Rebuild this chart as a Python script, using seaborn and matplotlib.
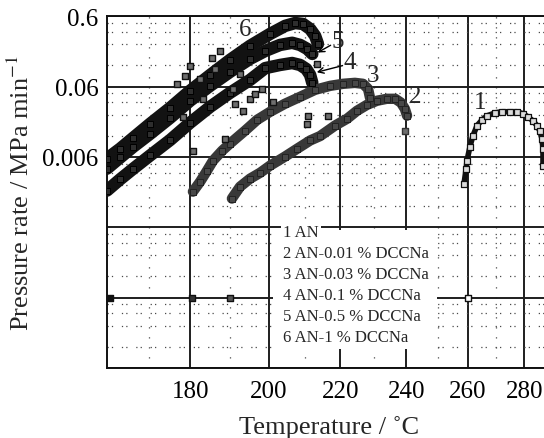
import numpy as np
import pandas as pd
import matplotlib
matplotlib.use("Agg")
import matplotlib.pyplot as plt
import seaborn as sns
from matplotlib.ticker import FixedLocator, FixedFormatter, NullFormatter
from matplotlib.patches import Rectangle

sns.set_style("white")
plt.rcParams['font.family'] = ['Liberation Serif', 'DejaVu Serif']
plt.rcParams['mathtext.fontset'] = 'stix'

# ---------------- data ----------------
# 1 AN
s1_T = [258.8, 259.5, 259.8, 260.8, 261.8, 263.2, 265.0, 266.7, 269.6, 272.0,
        274.9, 277.3, 279.5, 281.3, 283.2, 284.7, 285.8, 286.5, 286.9, 286.9]
s1_rate = [0.00251, 0.00409, 0.00532, 0.0084, 0.0119, 0.0167, 0.0203, 0.0231, 0.0255, 0.0264,
           0.0264, 0.0264, 0.0247, 0.0224, 0.0195, 0.0167, 0.0139, 0.0109, 0.0079, 0.0045]
# 2 AN-0.01 % DCCNa
s2_T = [190.4, 192.5, 195.1, 197.8, 200.4, 204.4, 207.8, 211.4, 214.2, 218.5,
        222.0, 224.9, 227.9, 230.9, 233.9, 236.5, 238.3, 239.5, 240.2]
s2_rate = [0.00154, 0.00227, 0.00295, 0.00359, 0.00452, 0.00606, 0.00787, 0.0103, 0.0119, 0.0168,
           0.0210, 0.0272, 0.0331, 0.0378, 0.0403, 0.0403, 0.0355, 0.0291, 0.0232]
s2_extra_T = [239.5]
s2_extra_rate = [0.0141]
# 3 AN-0.03 % DCCNa
s3_T = [180.6, 182.4, 184.1, 185.6, 187.9, 189.9, 193.8, 197.0, 200.4, 204.4,
        208.6, 212.8, 217.1, 220.8, 224.3, 226.7, 228.2, 228.8]
s3_rate = [0.00193, 0.00268, 0.00384, 0.00532, 0.00737, 0.0093, 0.0142, 0.0203, 0.0263, 0.0342,
           0.0430, 0.0541, 0.0616, 0.0658, 0.0679, 0.0658, 0.0559, 0.0416]
# 4 AN-0.1 % DCCNa
s4_T = [160.4, 163.4, 166.4, 170.3, 175.1, 179.9, 184.9, 189.9, 195.1, 199.1,
        203.1, 206.4, 208.6, 210.3, 211.4, 212.0]
s4_rate = [0.0020, 0.0029, 0.0041, 0.0063, 0.0105, 0.0184, 0.0311, 0.0490, 0.0748, 0.110,
           0.122, 0.130, 0.122, 0.107, 0.088, 0.068]
s4_extra_T = [187.4, 185.4, 179.9, 178.7, 176.8, 183.2, 190.7, 193.3, 195.1, 188.6,
              180.6, 178.2, 201.2, 210.8, 216.5, 210.6, 213.3, 182.4, 186.2, 192.5,
              196.4, 198.3, 191.2]
s4_extra_rate = [0.193, 0.154, 0.117, 0.085, 0.0658, 0.0403, 0.0559, 0.0272, 0.0403, 0.0109,
                 0.0074, 0.0224, 0.0365, 0.0232, 0.0232, 0.0178, 0.126, 0.0773, 0.107, 0.091,
                 0.0474, 0.0559, 0.0342]
# 5 AN-0.5 % DCCNa
s5_T = [160.4, 163.4, 166.4, 170.3, 175.1, 179.9, 184.9, 189.9, 195.1, 199.1,
        203.1, 206.4, 208.6, 210.6, 212.0]
s5_rate = [0.0041, 0.0059, 0.0084, 0.0128, 0.0217, 0.0378, 0.0618, 0.0972, 0.149, 0.193,
           0.235, 0.252, 0.235, 0.206, 0.175]
# 6 AN-1 % DCCNa
s6_T = [160.4, 163.4, 166.4, 170.3, 175.1, 179.9, 184.9, 189.9, 195.1, 200.4,
        204.5, 207.2, 209.4, 211.4, 212.8, 213.6]
s6_rate = [0.0057, 0.0079, 0.0113, 0.0178, 0.0301, 0.0525, 0.088, 0.144, 0.228, 0.337,
           0.439, 0.481, 0.467, 0.396, 0.316, 0.243]
# first points sitting on the 6e-5 line
base_T = [161.1, 180.4, 189.9, 260.2]
base_rate = [6e-5, 6e-5, 6e-5, 6e-5]

legend_labels = ["1 AN", "2 AN-0.01 % DCCNa", "3 AN-0.03 % DCCNa",
                 "4 AN-0.1 % DCCNa", "5 AN-0.5 % DCCNa", "6 AN-1 % DCCNa"]
curve_labels = ["1", "2", "3", "4", "5", "6"]
label_T = [264.3, 242.7, 229.7, 222.9, 219.3, 193.8]
label_rate = [0.0365, 0.044, 0.0882, 0.134, 0.268, 0.396]

xtick_values = [180, 200, 220, 240, 260, 280]
xtick_labels = ["180", "200", "220", "240", "260", "280"]
xminor_values = [170, 190, 210, 230, 250, 270]
ytick_values = [6e-6, 6e-5, 6e-4, 0.006, 0.06, 0.6]
ytick_labels = ["", "", "", "0.006", "0.06", "0.6"]

# ---------------- figure ----------------
fig = plt.figure(figsize=(5.44, 4.39), dpi=100)
ax = fig.add_axes([107 / 544, 70 / 439, 444.2 / 544, 351.7 / 439])


def fwd(t):
    t = np.asarray(t, dtype=float)
    return -1.0 / (t + 273.15)


def inv(u):
    u = np.asarray(u, dtype=float)
    with np.errstate(divide='ignore', invalid='ignore'):
        return -1.0 / u - 273.15


ax.set_xscale('function', functions=(fwd, inv))
ax.set_yscale('log')

series = [
    (s6_T, s6_rate, '#121212', 9.0, '#2e2e2e', '#000000'),
    (s5_T, s5_rate, '#121212', 9.0, '#2e2e2e', '#000000'),
    (s4_T, s4_rate, '#121212', 9.0, '#2e2e2e', '#000000'),
    (s3_T, s3_rate, '#383838', 7.5, '#484848', '#222222'),
    (s2_T, s2_rate, '#383838', 7.5, '#484848', '#222222'),
]
for T, r, col, lw, fc, ec in series:
    df = pd.DataFrame({'T': T, 'rate': r})
    sns.lineplot(data=df, x='T', y='rate', sort=False, estimator=None, color=col,
                 lw=lw, solid_capstyle='round', ax=ax, legend=False, zorder=2)
    sns.scatterplot(data=df, x='T', y='rate', marker='s', s=13, color=fc,
                    edgecolor=ec, linewidth=0.7, ax=ax, legend=False, zorder=3)

ex4 = pd.DataFrame({'T': s4_extra_T, 'rate': s4_extra_rate})
sns.scatterplot(data=ex4, x='T', y='rate', marker='s', s=17, color='#6e6e6e',
                edgecolor='#111111', linewidth=1.0, ax=ax, legend=False, zorder=3)
ex2 = pd.DataFrame({'T': s2_extra_T, 'rate': s2_extra_rate})
sns.scatterplot(data=ex2, x='T', y='rate', marker='s', s=17, color='#6e6e6e',
                edgecolor='#333333', linewidth=1.0, ax=ax, legend=False, zorder=3)

d1 = pd.DataFrame({'T': s1_T, 'rate': s1_rate})
sns.lineplot(data=d1, x='T', y='rate', sort=False, estimator=None, color='#111111',
             lw=4.0, solid_capstyle='round', ax=ax, legend=False, zorder=2)
sns.scatterplot(data=d1, x='T', y='rate', marker='s', s=14, color='#dcdcdc',
                edgecolor='#111111', linewidth=0.9, ax=ax, legend=False, zorder=3)

db = pd.DataFrame({'T': base_T, 'rate': base_rate})
sns.scatterplot(data=db, x='T', y='rate', marker='s', s=20,
                color=['#111111', '#333333', '#555555', 'white'],
                edgecolor='#111111', linewidth=1.0, ax=ax, legend=False, zorder=3)

ax.set_xlim(160.4, 290)
ax.set_ylim(6e-6, 0.6)

ax.xaxis.set_major_locator(FixedLocator(xtick_values))
ax.xaxis.set_major_formatter(FixedFormatter(xtick_labels))
ax.xaxis.set_minor_locator(FixedLocator(xminor_values))
ax.xaxis.set_minor_formatter(NullFormatter())
yminor = [m * f for m in ytick_values[1:] for f in (0.8, 0.6, 0.4, 0.2)]
ax.yaxis.set_major_locator(FixedLocator(ytick_values))
ax.yaxis.set_major_formatter(FixedFormatter(ytick_labels))
ax.yaxis.set_minor_locator(FixedLocator(yminor))
ax.yaxis.set_minor_formatter(NullFormatter())

ax.set_axisbelow(True)
ax.grid(True, which='major', color='#1e1e1e', lw=1.4, ls='-')
ax.yaxis.grid(True, which='minor', color='#4a4a4a', lw=0.9, ls=(0, (1, 2.5, 1, 7)))
ax.xaxis.grid(True, which='minor', color='#4a4a4a', lw=0.9, ls=(0, (1, 7)))

ax.tick_params(which='major', length=0, labelsize=18, colors='black')
ax.tick_params(axis='y', which='major', pad=6)
ax.tick_params(axis='x', which='major', pad=9)
ax.tick_params(which='minor', direction='in', length=4, width=1, color='#222222')
for side in ['left', 'bottom', 'top']:
    ax.spines[side].set_color('#111111')
    ax.spines[side].set_linewidth(1.4)
ax.spines['right'].set_visible(False)

ax.set_xlabel('Temperature / ˚C', fontsize=19, labelpad=9)
ax.set_ylabel('Pressure rate / MPa min$^{-1}$', fontsize=19, labelpad=6)

# curve numbers and arrows
for s, t, r in zip(curve_labels, label_T, label_rate):
    ax.text(t, r, s, fontsize=18, ha='center', va='center', zorder=4)
ax.annotate('', xy=(212.8, 0.175), xytext=(217.9, 0.243),
            arrowprops=dict(arrowstyle='->', lw=1.0, color='black'), zorder=4)
ax.annotate('', xy=(212.5, 0.094), xytext=(221.4, 0.122),
            arrowprops=dict(arrowstyle='->', lw=1.0, color='black'), zorder=4)

# legend block (text only, on white)
ax.add_patch(Rectangle((0.3737, 0.054), 0.3692, 0.3384, transform=ax.transAxes,
                       facecolor='white', edgecolor='none', zorder=1.5))
row_y = 0.386
for i, lab in enumerate(legend_labels):
    kw = {}
    if i == 0:
        kw['bbox'] = dict(facecolor='white', edgecolor='none', pad=1.5)
    ax.text(0.3964, row_y - i * 0.0597, lab, transform=ax.transAxes, fontsize=12,
            ha='left', va='center', zorder=4, **kw)

fig.savefig('out.png', dpi=100)
